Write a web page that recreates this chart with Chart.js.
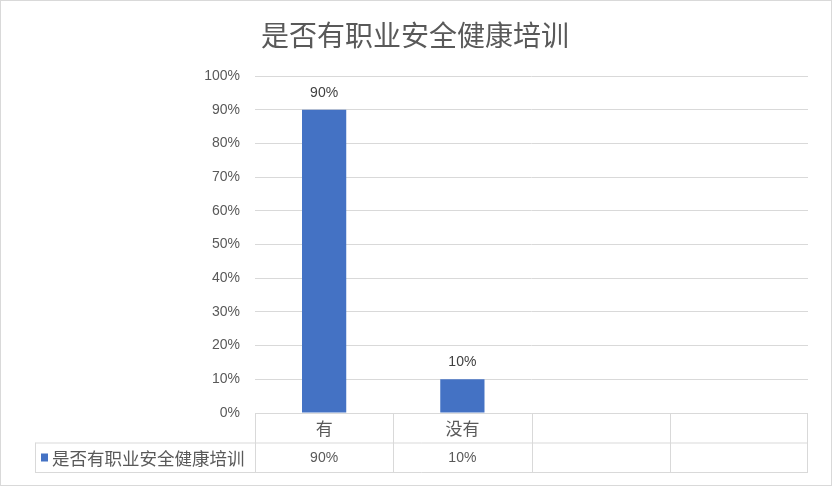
<!DOCTYPE html>
<html>
<head>
<meta charset="utf-8">
<script src="https://cdn.jsdelivr.net/npm/chart.js@4"></script>
<style>
  html, body { margin: 0; padding: 0; background: #fff; }
  #wrap { width: 832px; height: 486px; }
</style>
</head>
<body>
<div id="wrap"><canvas id="c" width="832" height="486"></canvas></div>
<script>
const title = '是否有职业安全健康培训';
const categories = ['有', '没有', '', ''];
const values = [0.9, 0.1, null, null];
const tableValues = ['90%', '10%', '', ''];
const yTicks = ['0%', '10%', '20%', '30%', '40%', '50%', '60%', '70%', '80%', '90%', '100%'];

const FONT = '"Liberation Sans", "Noto Sans CJK SC", sans-serif';
const CJK = '"Noto Sans CJK SC", sans-serif';
const GRID = '#d9d9d9';
const TEXT = '#595959';
const BAR = '#4472C4';

// title, data labels, data table and frame
const extras = {
  id: 'extras',
  afterDraw(chart) {
    const { ctx, chartArea: a, scales: { x, y } } = chart;
    ctx.save();

    ctx.fillStyle = TEXT;
    ctx.font = '28px ' + CJK;
    ctx.textAlign = 'center';
    ctx.textBaseline = 'middle';
    ctx.fillText(title, 415, 35);

    // labels above bars
    ctx.font = '14px ' + FONT;
    ctx.fillStyle = '#404040';
    ctx.textBaseline = 'bottom';
    values.forEach((v, i) => {
      if (v == null) return;
      ctx.fillText(Math.round(v * 100) + '%', x.getPixelForValue(i), y.getPixelForValue(v) - 10);
    });

    // data table
    const half = (x.getPixelForValue(1) - x.getPixelForValue(0)) / 2;
    const r0 = a.bottom, r1 = a.bottom + 29.5, r2 = a.bottom + 59;
    const keyLeft = 35.5;
    ctx.strokeStyle = GRID;
    ctx.lineWidth = 1;
    ctx.beginPath();
    ctx.moveTo(a.left, r0 + 0.5); ctx.lineTo(a.right, r0 + 0.5);
    ctx.moveTo(keyLeft, r1 + 0.5); ctx.lineTo(a.right, r1 + 0.5);
    ctx.moveTo(keyLeft, r2 + 0.5); ctx.lineTo(a.right, r2 + 0.5);
    ctx.moveTo(keyLeft, r1); ctx.lineTo(keyLeft, r2 + 1);
    categories.forEach((c, i) => {
      const xl = Math.round(x.getPixelForValue(i) - half) + 0.5;
      ctx.moveTo(xl, r0); ctx.lineTo(xl, r2 + 1);
    });
    const xr = Math.round(a.right) - 0.5;
    ctx.moveTo(xr, r0); ctx.lineTo(xr, r2 + 1);
    ctx.stroke();

    ctx.textBaseline = 'middle';
    ctx.fillStyle = TEXT;
    categories.forEach((c, i) => {
      const cx = x.getPixelForValue(i);
      ctx.font = '17px ' + CJK;
      ctx.fillText(c, cx, (r0 + r1) / 2 + 1);
      ctx.font = '14px ' + FONT;
      ctx.fillText(tableValues[i], cx, (r1 + r2) / 2 + 1);
    });

    ctx.fillStyle = BAR;
    ctx.fillRect(41, r1 + 11, 7, 8);
    ctx.fillStyle = TEXT;
    ctx.textAlign = 'left';
    ctx.font = '17.5px ' + CJK;
    ctx.fillText(title, 52, (r1 + r2) / 2 + 1);

    // outer frame
    ctx.strokeStyle = GRID;
    ctx.strokeRect(0.5, 0.5, chart.width - 1, chart.height - 1);
    ctx.restore();
  }
};

new Chart(document.getElementById('c'), {
  type: 'bar',
  data: {
    labels: categories,
    datasets: [{
      label: title,
      data: values,
      backgroundColor: BAR,
      categoryPercentage: 1,
      barPercentage: 0.32
    }]
  },
  options: {
    responsive: false,
    animation: false,
    layout: { padding: { left: 0, right: 24, top: 76, bottom: 73 } },
    plugins: {
      legend: { display: false },
      title: { display: false },
      tooltip: { enabled: false }
    },
    scales: {
      x: {
        display: false
      },
      y: {
        min: 0,
        max: 1,
        afterFit(s) { s.width = 255; },
        border: { display: false },
        grid: { color: GRID, drawTicks: false },
        ticks: {
          stepSize: 0.1,
          padding: 15,
          color: TEXT,
          font: { size: 14, family: FONT },
          callback: (v, i) => yTicks[i]
        }
      }
    }
  },
  plugins: [extras]
});
</script>
</body>
</html>
